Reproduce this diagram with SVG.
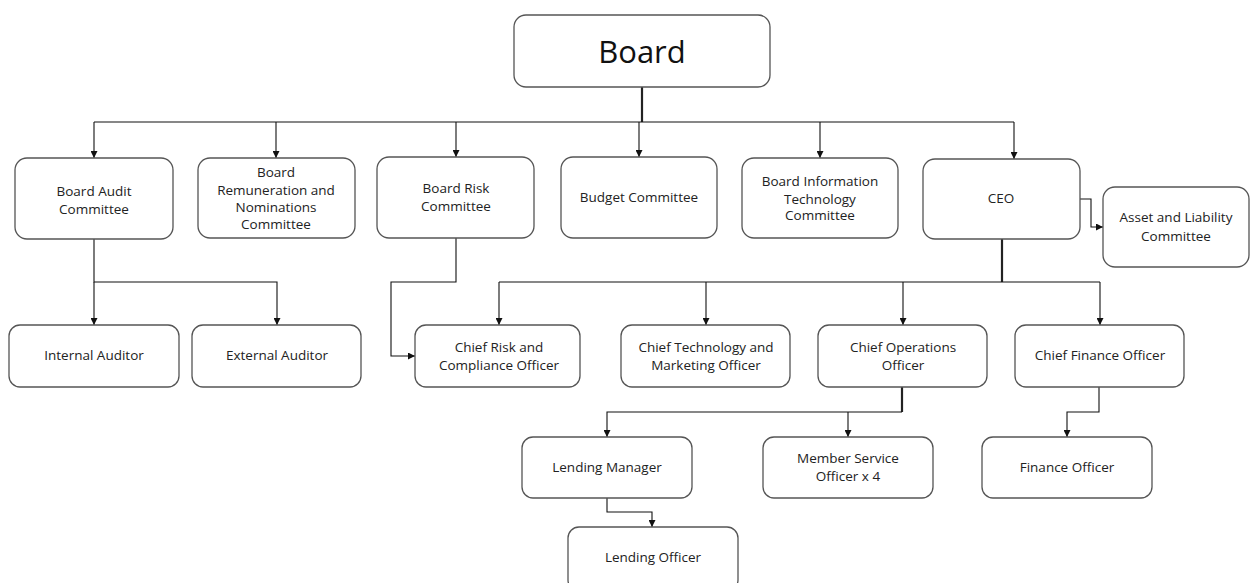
<svg xmlns="http://www.w3.org/2000/svg" width="1250" height="583" viewBox="0 0 1250 583">
<style>
.box{fill:#fff;stroke:#555;stroke-width:1.3}
.t{font-family:"Open Sans","Liberation Sans",sans-serif;font-size:13.5px;fill:#222;text-anchor:middle}
.big{font-size:31px;fill:#111}
.c{fill:none;stroke:#111;stroke-width:1.1}
.thick{fill:none;stroke:#222;stroke-width:2.2}
</style>
<defs>
<marker id="ah" viewBox="0 0 10 10" refX="10" refY="5" markerWidth="7" markerHeight="7" orient="auto" markerUnits="userSpaceOnUse">
<path d="M0,0 L10,5 L0,10 Z" fill="#111"/>
</marker>
</defs>
<rect width="1250" height="583" fill="#fff"/>
<g id="connectors">
<path class="thick" d="M642,87 V122"/>
<path class="c" d="M94,122 H1014"/>
<path class="c" d="M94,122 V158" marker-end="url(#ah)"/>
<path class="c" d="M276,122 V158" marker-end="url(#ah)"/>
<path class="c" d="M456,122 V157" marker-end="url(#ah)"/>
<path class="c" d="M639,122 V157" marker-end="url(#ah)"/>
<path class="c" d="M820,122 V158" marker-end="url(#ah)"/>
<path class="c" d="M1014,122 V159" marker-end="url(#ah)"/>
<path class="c" d="M1080,199 H1091 V227 H1103" marker-end="url(#ah)"/>
<path class="c" d="M94,239 V282 H277 V325" marker-end="url(#ah)"/>
<path class="c" d="M94,282 V325" marker-end="url(#ah)"/>
<path class="c" d="M456,238 V282 H391 V356 H415" marker-end="url(#ah)"/>
<path class="thick" d="M1002,239 V282"/>
<path class="c" d="M499,282 H1100"/>
<path class="c" d="M499,282 V325" marker-end="url(#ah)"/>
<path class="c" d="M706,282 V325" marker-end="url(#ah)"/>
<path class="c" d="M903,282 V325" marker-end="url(#ah)"/>
<path class="c" d="M1100,282 V325" marker-end="url(#ah)"/>
<path class="thick" d="M902,387 V412"/>
<path class="c" d="M902,412 H607 V437" marker-end="url(#ah)"/>
<path class="c" d="M848,412 V437" marker-end="url(#ah)"/>
<path class="c" d="M1099,387 V412 H1067 V437" marker-end="url(#ah)"/>
<path class="c" d="M607,498 V512 H652 V527" marker-end="url(#ah)"/>
</g>
<g id="board"><rect class="box" x="514" y="15" width="256" height="72" rx="12"/><text class="t big" x="642" y="63">Board</text></g>
<g id="audit-committee"><rect class="box" x="15" y="158" width="158" height="81" rx="12"/><text class="t" x="94" y="196">Board Audit</text><text class="t" x="94" y="214">Committee</text></g>
<g id="remuneration"><rect class="box" x="198" y="158" width="157" height="80" rx="12"/><text class="t" x="276" y="177">Board</text><text class="t" x="276" y="195">Remuneration and</text><text class="t" x="276" y="212">Nominations</text><text class="t" x="276" y="229">Committee</text></g>
<g id="risk-committee"><rect class="box" x="377" y="157" width="157" height="81" rx="12"/><text class="t" x="456" y="193">Board Risk</text><text class="t" x="456" y="211">Committee</text></g>
<g id="budget"><rect class="box" x="561" y="157" width="156" height="81" rx="12"/><text class="t" x="639" y="202">Budget Committee</text></g>
<g id="it-committee"><rect class="box" x="742" y="158" width="156" height="80" rx="12"/><text class="t" x="820" y="186">Board Information</text><text class="t" x="820" y="204">Technology</text><text class="t" x="820" y="220">Committee</text></g>
<g id="ceo"><rect class="box" x="923" y="159" width="157" height="80" rx="12"/><text class="t" x="1001" y="203">CEO</text></g>
<g id="alco"><rect class="box" x="1103" y="187" width="146" height="80" rx="12"/><text class="t" x="1176" y="222">Asset and Liability</text><text class="t" x="1176" y="241">Committee</text></g>
<g id="internal-auditor"><rect class="box" x="9" y="325" width="170" height="62" rx="11"/><text class="t" x="94" y="360">Internal Auditor</text></g>
<g id="external-auditor"><rect class="box" x="192" y="325" width="169" height="62" rx="11"/><text class="t" x="277" y="360">External Auditor</text></g>
<g id="cro"><rect class="box" x="415" y="325" width="165" height="62" rx="11"/><text class="t" x="499" y="352">Chief Risk and</text><text class="t" x="499" y="370">Compliance Officer</text></g>
<g id="cto"><rect class="box" x="621" y="325" width="169" height="62" rx="11"/><text class="t" x="706" y="352">Chief Technology and</text><text class="t" x="706" y="370">Marketing Officer</text></g>
<g id="coo"><rect class="box" x="818" y="325" width="169" height="62" rx="11"/><text class="t" x="903" y="352">Chief Operations</text><text class="t" x="903" y="370">Officer</text></g>
<g id="cfo"><rect class="box" x="1015" y="325" width="169" height="62" rx="11"/><text class="t" x="1100" y="360">Chief Finance Officer</text></g>
<g id="lending-manager"><rect class="box" x="522" y="437" width="170" height="61" rx="11"/><text class="t" x="607" y="472">Lending Manager</text></g>
<g id="member-service"><rect class="box" x="763" y="437" width="170" height="61" rx="11"/><text class="t" x="848" y="463">Member Service</text><text class="t" x="848" y="481">Officer x 4</text></g>
<g id="finance-officer"><rect class="box" x="982" y="437" width="170" height="61" rx="11"/><text class="t" x="1067" y="472">Finance Officer</text></g>
<g id="lending-officer"><rect class="box" x="568" y="527" width="170" height="64" rx="11"/><text class="t" x="653" y="562">Lending Officer</text></g>
</svg>
